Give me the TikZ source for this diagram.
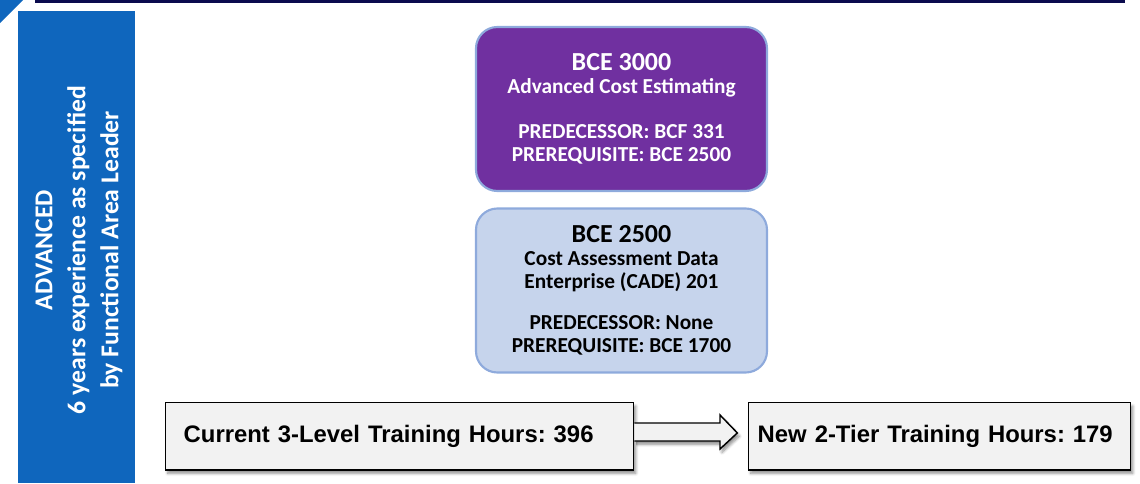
\documentclass[tikz,border=0pt]{standalone}
\usepackage{fontspec}
\setmainfont{Liberation Sans}
\newfontfamily\calib{Carlito}
\usetikzlibrary{shadows.blur}
\frenchspacing
\definecolor{navyline}{HTML}{0B0B4E}
\definecolor{sideblue}{HTML}{0F66BD}
\definecolor{advpurple}{HTML}{7030A0}
\definecolor{edgeblue}{HTML}{8EAADC}
\definecolor{paleblue}{HTML}{C6D4EC}
\definecolor{boxgray}{HTML}{F2F2F2}
\tikzset{
  course/.style={draw=edgeblue, line width=1.6pt, rounded corners=16pt,
    minimum width=218.25pt, minimum height=123pt, align=center, inner sep=0pt,
    font=\calib\bfseries\fontsize{16}{17.25}\selectfont},
  hours/.style={draw=black, line width=1.1pt, fill=boxgray, anchor=north west,
    minimum height=50.5pt, align=left, inner ysep=0pt,
    font=\bfseries\fontsize{17.9}{20}\selectfont,
    blur shadow={shadow xshift=1.5pt, shadow yshift=-2.5pt, shadow blur steps=6, shadow opacity=45}},
  blockarrow/.style={draw=black, line width=1.1pt, fill=boxgray, line join=miter,
    blur shadow={shadow xshift=1.5pt, shadow yshift=-2.5pt, shadow blur steps=6, shadow opacity=45}}
}
\begin{document}
\begin{tikzpicture}[x=0.75pt,y=-0.75pt]
\useasboundingbox (0,0) rectangle (1140,483);
% header decorations
\fill[navyline] (35,0) rectangle (1125,3);
\fill[sideblue] (0,0) -- (23,0) -- (0,23) -- cycle;
% side band
\fill[sideblue] (18,11) rectangle (135,483);
\node[rotate=90, text=white, align=center,
  font=\calib\bfseries\fontsize{19.3}{24.75}\selectfont] (side) at (79,250)
  {ADVANCED\\6 years experience as specified\\by Functional Area Leader};
% course boxes
\node[course, fill=advpurple, text=white] (bce3000) at (621.5,109)
  {{\fontsize{19.5}{17.25}\selectfont BCE 3000}\\Advanced Cost Estimating\\[16.5pt]
   PREDECESSOR: BCF 331\\PREREQUISITE: BCE 2500};
\node[course, fill=paleblue, text=black] (bce2500) at (621.5,290.5)
  {{\fontsize{19.5}{17.25}\selectfont BCE 2500}\\Cost Assessment Data\\Enterprise (CADE) 201\\[13.5pt]
   PREDECESSOR: None\\PREREQUISITE: BCE 1700};
% hours boxes
\node[hours, inner xsep=13.5pt, text width=324pt] (current) at (165,402)
  {Current 3-Level Training Hours: 396};
\node[hours, inner xsep=6.75pt, text width=273pt] (new) at (748,402)
  {New 2-Tier Training Hours: 179};
% block arrow from current to new
\coordinate (tip) at ([yshift=2.6pt,xshift=-8pt]new.west);
\draw[blockarrow] (current.east |- 0,423) -- (720,423) -- (720,415) -- (tip)
  -- (720,449) -- (720,441) -- (current.east |- 0,441);
\end{tikzpicture}
\end{document}
